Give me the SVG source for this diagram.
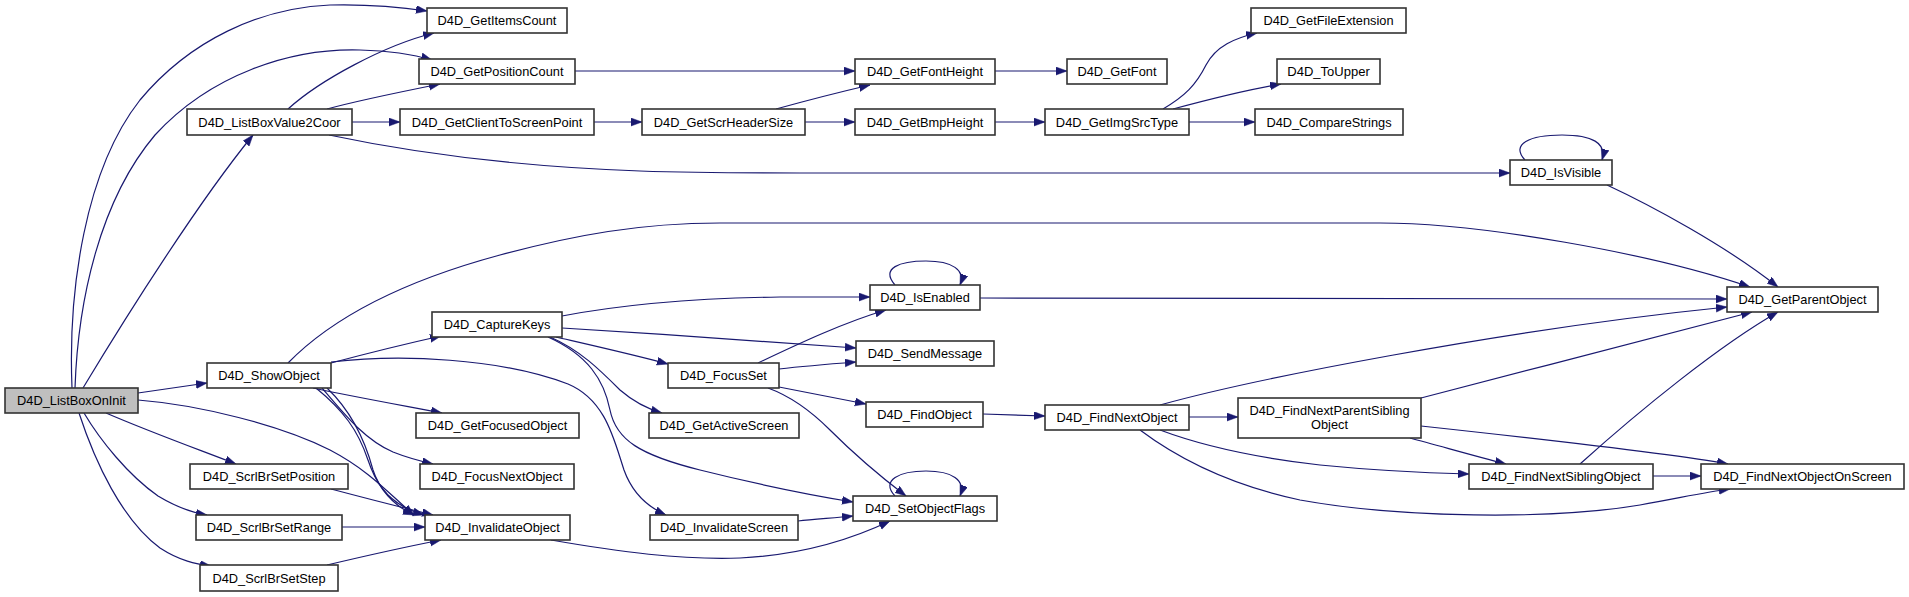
<svg xmlns="http://www.w3.org/2000/svg" width="1909" height="597" viewBox="0 0 1909 597">
<style>
.node rect{fill:#ffffff;stroke:#333333;stroke-width:1.6}
.node.root rect{fill:#bfbfbf}
.node text{font-family:"Liberation Sans",Arial,sans-serif;font-size:13.6px;fill:#000;text-anchor:middle}
.edges path{fill:none;stroke:#191970;stroke-width:1.2;marker-end:url(#arr)}
</style>
<defs>
<marker id="arr" markerUnits="userSpaceOnUse" markerWidth="12" markerHeight="9" refX="11" refY="4" orient="auto">
<path d="M0,0 L11,4 L0,8 z" fill="#191970" stroke="#191970" stroke-width="0.5"/>
</marker>
</defs>
<rect width="1909" height="597" fill="#ffffff"/>
<g class="edges">
<!-- ListBoxOnInit -->
<path d="M72,388 C68,290 85,170 140,100 C190,40 260,8 330,5 C370,4 400,7 427,11"/>
<path d="M75,388 C78,300 100,200 155,135 C210,75 290,48 360,50 C395,51 415,55 432,60"/>
<path d="M83,388 C130,310 200,200 253,135"/>
<path d="M138,393 C160,390 185,386 207,383"/>
<path d="M138,400 C200,405 280,425 330,450 C372,472 392,497 414,515"/>
<path d="M106,413 C150,432 200,450 236,464"/>
<path d="M84,413 C100,440 128,475 158,496 C178,508 194,513 207,515"/>
<path d="M79,413 C95,462 122,520 160,548 C180,561 196,564 211,566"/>
<!-- ListBoxValue2Coor -->
<path d="M288,109 C320,80 385,45 434,33"/>
<path d="M327,109 C360,100 405,91 440,84"/>
<path d="M352,122 L400,122"/>
<path d="M329,135 C400,150 500,166 640,171 C700,173 750,173 800,173 L1510,173"/>
<!-- top chain -->
<path d="M575,71 L855,71"/>
<path d="M594,122 L642,122"/>
<path d="M776,109 C805,101 840,92 870,85"/>
<path d="M805,122 L855,122"/>
<path d="M995,71 L1067,71"/>
<path d="M995,122 L1045,122"/>
<path d="M1163,109 C1185,96 1196,85 1206,65 C1216,46 1235,38 1257,33"/>
<path d="M1173,109 C1210,99 1245,90 1281,84"/>
<path d="M1189,122 L1255,122"/>
<!-- IsVisible -->
<path d="M1525,160 C1510,144 1530,135 1562,135 C1592,135 1607,143 1602,160"/>
<path d="M1607,185 C1650,205 1725,245 1778,287"/>
<!-- ShowObject -->
<path d="M288,363 C330,320 400,282 500,255 C575,235 640,223 720,223 L1380,223 C1480,223 1650,253 1750,287"/>
<path d="M331,363 C365,354 405,344 441,336"/>
<path d="M331,362 C400,354 500,358 568,384 C606,400 614,440 624,470 C633,495 650,508 666,515"/>
<path d="M313,388 C355,397 400,405 442,413"/>
<path d="M322,388 C345,415 365,440 393,452 C408,458 420,461 433,464"/>
<path d="M316,388 C343,410 358,430 368,460 C378,490 394,506 414,515"/>
<path d="M327,388 C350,410 365,440 373,470 C381,495 400,508 424,515"/>
<!-- ScrlBr -->
<path d="M331,489 C365,498 400,507 433,515"/>
<path d="M342,527 L425,527"/>
<path d="M327,565 C365,556 405,547 441,540"/>
<!-- CaptureKeys -->
<path d="M562,316 C620,305 700,298 780,297 L870,297"/>
<path d="M562,328 C660,334 760,341 856,348"/>
<path d="M556,337 C595,346 635,355 668,364"/>
<path d="M550,337 C580,350 600,370 620,390 C635,403 648,409 662,413"/>
<path d="M548,337 C588,355 604,380 610,410 C616,440 640,455 700,470 C760,485 810,495 853,502"/>
<!-- FocusSet -->
<path d="M758,363 C800,343 845,322 886,310"/>
<path d="M779,369 C805,366 830,364 856,362"/>
<path d="M779,387 C810,393 840,399 866,404"/>
<path d="M768,388 C790,396 810,410 830,430 C860,460 885,480 906,496"/>
<!-- IsEnabled -->
<path d="M895,285 C880,268 900,261 926,261 C952,261 966,270 960,285"/>
<path d="M980,298 L1727,299"/>
<!-- FindObject / FindNextObject -->
<path d="M983,414 L1045,416"/>
<path d="M1160,405 C1250,380 1500,330 1727,307"/>
<path d="M1189,417 L1238,417"/>
<path d="M1160,430 C1200,445 1250,457 1320,465 C1380,471 1430,473 1469,474"/>
<path d="M1140,430 C1180,460 1230,485 1300,500 C1400,518 1550,520 1640,505 C1680,498 1705,492 1730,489"/>
<!-- FNPSO -->
<path d="M1421,398 C1530,370 1650,338 1752,312"/>
<path d="M1421,426 C1550,440 1680,455 1728,464"/>
<path d="M1410,438 C1440,446 1475,456 1506,464"/>
<!-- FindNextSiblingObject -->
<path d="M1580,464 C1640,410 1720,345 1778,312"/>
<path d="M1653,476 L1701,476"/>
<!-- SetObjectFlags -->
<path d="M895,496 C880,480 900,471 926,471 C952,471 966,480 960,496"/>
<path d="M798,521 C815,519 835,518 853,516"/>
<path d="M551,540 C620,552 680,560 740,558 C800,555 850,540 890,521"/>
</g>
<g id="n_ListBoxOnInit" class="node root"><rect x="5" y="388" width="133" height="25"/><text x="71.5" y="405" textLength="108.8" lengthAdjust="spacingAndGlyphs">D4D_ListBoxOnInit</text></g>
<g id="n_GetItemsCount" class="node"><rect x="427" y="8" width="140" height="25"/><text x="497" y="25" textLength="118.8" lengthAdjust="spacingAndGlyphs">D4D_GetItemsCount</text></g>
<g id="n_GetPositionCount" class="node"><rect x="419" y="59" width="156" height="25"/><text x="497" y="76" textLength="133" lengthAdjust="spacingAndGlyphs">D4D_GetPositionCount</text></g>
<g id="n_ListBoxValue2Coor" class="node"><rect x="187" y="109" width="165" height="26"/><text x="269.5" y="126.5" textLength="142.3" lengthAdjust="spacingAndGlyphs">D4D_ListBoxValue2Coor</text></g>
<g id="n_GetClientToScreenPoint" class="node"><rect x="400" y="109" width="194" height="26"/><text x="497" y="126.5" textLength="170.7" lengthAdjust="spacingAndGlyphs">D4D_GetClientToScreenPoint</text></g>
<g id="n_GetScrHeaderSize" class="node"><rect x="642" y="109" width="163" height="26"/><text x="723.5" y="126.5" textLength="139.4" lengthAdjust="spacingAndGlyphs">D4D_GetScrHeaderSize</text></g>
<g id="n_GetFontHeight" class="node"><rect x="855" y="59" width="140" height="25"/><text x="925" y="76" textLength="116" lengthAdjust="spacingAndGlyphs">D4D_GetFontHeight</text></g>
<g id="n_GetFont" class="node"><rect x="1067" y="59" width="100" height="25"/><text x="1117" y="76" textLength="79" lengthAdjust="spacingAndGlyphs">D4D_GetFont</text></g>
<g id="n_GetBmpHeight" class="node"><rect x="855" y="109" width="140" height="26"/><text x="925" y="126.5" textLength="116.7" lengthAdjust="spacingAndGlyphs">D4D_GetBmpHeight</text></g>
<g id="n_GetImgSrcType" class="node"><rect x="1045" y="109" width="144" height="26"/><text x="1117" y="126.5" textLength="122.3" lengthAdjust="spacingAndGlyphs">D4D_GetImgSrcType</text></g>
<g id="n_GetFileExtension" class="node"><rect x="1251" y="8" width="155" height="25"/><text x="1328.5" y="25" textLength="130.2" lengthAdjust="spacingAndGlyphs">D4D_GetFileExtension</text></g>
<g id="n_ToUpper" class="node"><rect x="1277" y="59" width="103" height="25"/><text x="1328.5" y="76" textLength="82.5" lengthAdjust="spacingAndGlyphs">D4D_ToUpper</text></g>
<g id="n_CompareStrings" class="node"><rect x="1255" y="109" width="148" height="26"/><text x="1329" y="126.5" textLength="125.2" lengthAdjust="spacingAndGlyphs">D4D_CompareStrings</text></g>
<g id="n_IsVisible" class="node"><rect x="1510" y="160" width="102" height="25"/><text x="1561" y="177" textLength="80.4" lengthAdjust="spacingAndGlyphs">D4D_IsVisible</text></g>
<g id="n_GetParentObject" class="node"><rect x="1727" y="287" width="151" height="25"/><text x="1802.5" y="304" textLength="128.1" lengthAdjust="spacingAndGlyphs">D4D_GetParentObject</text></g>
<g id="n_ShowObject" class="node"><rect x="207" y="363" width="124" height="25"/><text x="269" y="380" textLength="101.7" lengthAdjust="spacingAndGlyphs">D4D_ShowObject</text></g>
<g id="n_CaptureKeys" class="node"><rect x="432" y="312" width="130" height="25"/><text x="497" y="329" textLength="106.7" lengthAdjust="spacingAndGlyphs">D4D_CaptureKeys</text></g>
<g id="n_IsEnabled" class="node"><rect x="870" y="285" width="110" height="25"/><text x="925" y="302" textLength="89.6" lengthAdjust="spacingAndGlyphs">D4D_IsEnabled</text></g>
<g id="n_SendMessage" class="node"><rect x="856" y="341" width="138" height="25"/><text x="925" y="358" textLength="114.5" lengthAdjust="spacingAndGlyphs">D4D_SendMessage</text></g>
<g id="n_FocusSet" class="node"><rect x="668" y="363" width="111" height="25"/><text x="723.5" y="380" textLength="86.8" lengthAdjust="spacingAndGlyphs">D4D_FocusSet</text></g>
<g id="n_GetActiveScreen" class="node"><rect x="649" y="413" width="150" height="25"/><text x="724" y="430" textLength="128.8" lengthAdjust="spacingAndGlyphs">D4D_GetActiveScreen</text></g>
<g id="n_FindObject" class="node"><rect x="866" y="402" width="117" height="25"/><text x="924.5" y="419" textLength="94.6" lengthAdjust="spacingAndGlyphs">D4D_FindObject</text></g>
<g id="n_FindNextObject" class="node"><rect x="1045" y="405" width="144" height="25"/><text x="1117" y="422" textLength="120.9" lengthAdjust="spacingAndGlyphs">D4D_FindNextObject</text></g>
<g id="n_FindNextParentSiblingObject" class="node"><rect x="1238" y="398" width="183" height="40"/><text x="1329.5" y="415" textLength="160.1" lengthAdjust="spacingAndGlyphs">D4D_FindNextParentSibling</text><text x="1329.5" y="429" textLength="37" lengthAdjust="spacingAndGlyphs">Object</text></g>
<g id="n_FindNextSiblingObject" class="node"><rect x="1469" y="464" width="184" height="25"/><text x="1561" y="481" textLength="159.3" lengthAdjust="spacingAndGlyphs">D4D_FindNextSiblingObject</text></g>
<g id="n_FindNextObjectOnScreen" class="node"><rect x="1701" y="464" width="203" height="25"/><text x="1802.5" y="481" textLength="178.5" lengthAdjust="spacingAndGlyphs">D4D_FindNextObjectOnScreen</text></g>
<g id="n_GetFocusedObject" class="node"><rect x="416" y="413" width="163" height="25"/><text x="497.5" y="430" textLength="139.4" lengthAdjust="spacingAndGlyphs">D4D_GetFocusedObject</text></g>
<g id="n_FocusNextObject" class="node"><rect x="420" y="464" width="154" height="25"/><text x="497" y="481" textLength="130.9" lengthAdjust="spacingAndGlyphs">D4D_FocusNextObject</text></g>
<g id="n_ScrlBrSetPosition" class="node"><rect x="190" y="464" width="158" height="25"/><text x="269" y="481" textLength="132.3" lengthAdjust="spacingAndGlyphs">D4D_ScrlBrSetPosition</text></g>
<g id="n_ScrlBrSetRange" class="node"><rect x="196" y="515" width="146" height="25"/><text x="269" y="532" textLength="124.5" lengthAdjust="spacingAndGlyphs">D4D_ScrlBrSetRange</text></g>
<g id="n_InvalidateObject" class="node"><rect x="425" y="515" width="145" height="25"/><text x="497.5" y="532" textLength="124.5" lengthAdjust="spacingAndGlyphs">D4D_InvalidateObject</text></g>
<g id="n_ScrlBrSetStep" class="node"><rect x="200" y="565" width="138" height="26"/><text x="269" y="582.5" textLength="113.1" lengthAdjust="spacingAndGlyphs">D4D_ScrlBrSetStep</text></g>
<g id="n_InvalidateScreen" class="node"><rect x="650" y="515" width="148" height="25"/><text x="724" y="532" textLength="128.1" lengthAdjust="spacingAndGlyphs">D4D_InvalidateScreen</text></g>
<g id="n_SetObjectFlags" class="node"><rect x="853" y="496" width="144" height="25"/><text x="925" y="513" textLength="120.2" lengthAdjust="spacingAndGlyphs">D4D_SetObjectFlags</text></g>
</svg>
